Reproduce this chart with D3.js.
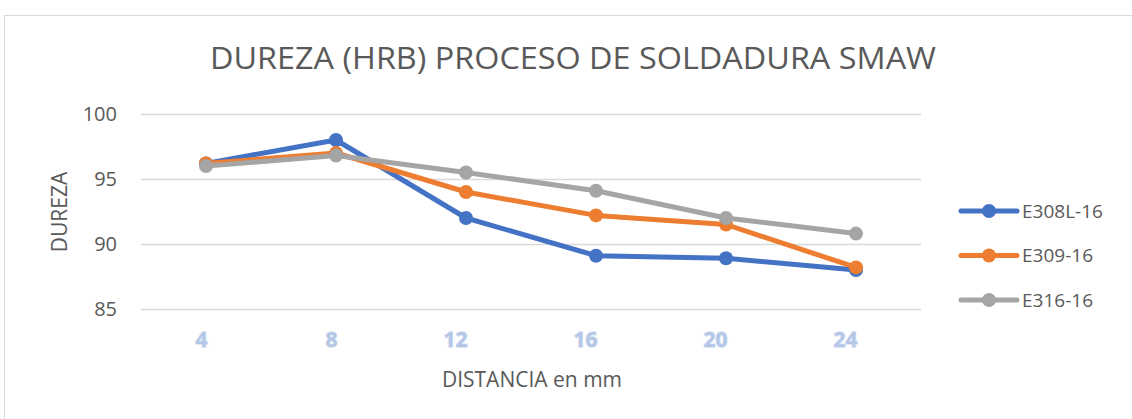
<!DOCTYPE html>
<html>
<head>
<meta charset="utf-8">
<script src="https://cdn.jsdelivr.net/npm/d3@7"></script>
<style>
  body { margin: 0; background: #fff; }
  text { font-family: "Open Sans", "Noto Sans", sans-serif; }
</style>
</head>
<body>
<div class="chart"></div>
<script>
// data
var distances = [4, 8, 12, 16, 20, 24];
var yTicks = [85, 90, 95, 100];
var seriesNames = ['E308L-16', 'E309-16', 'E316-16'];
var e308 = [96.2, 98.0, 92.0, 89.1, 88.9, 88.0];
var e309 = [96.2, 97.0, 94.0, 92.2, 91.5, 88.2];
var e316 = [96.0, 96.8, 95.5, 94.1, 92.0, 90.8];
var colors = ['#4472c4', '#ed7d31', '#a5a5a5'];

var series = [e308, e309, e316].map((vals, i) => ({
  name: seriesNames[i],
  color: colors[i],
  values: vals.map((v, j) => ({ x: distances[j], y: v }))
}));

var W = 1132, H = 419;
var margin = { top: 114, right: 211, bottom: 110, left: 141 };
var width = W - margin.left - margin.right;

var svg = d3.select('.chart')
  .append('svg')
    .attr('width', W)
    .attr('height', H);

// chart frame
svg.append('rect')
  .attr('x', 4.5).attr('y', 15.5)
  .attr('width', W).attr('height', H)
  .style('fill', 'none')
  .style('stroke', '#d9d9d9');

svg.append('text')
  .attr('x', 210).attr('y', 69)
  .attr('textLength', 726)
  .attr('lengthAdjust', 'spacingAndGlyphs')
  .style('font-size', '31.5px')
  .style('fill', '#595959')
  .text('DUREZA (HRB) PROCESO DE SOLDADURA SMAW');

var g = svg.append('g')
  .attr('transform', 'translate(' + margin.left + ',' + margin.top + ')');

var xScale = d3.scalePoint()
  .domain(distances)
  .range([0, width])
  .padding(0.5);

var yScale = d3.scaleLinear()
  .domain([85, 100])
  .range([195, 0]);

// gridlines
g.append('g')
  .call(d3.axisLeft(yScale).tickValues(yTicks).tickSize(-width).tickFormat(''))
  .call(a => a.select('.domain').remove())
  .call(a => a.selectAll('line').style('stroke', '#d9d9d9').style('stroke-width', 1.3));

// y tick labels
g.append('g')
  .call(d3.axisLeft(yScale).tickValues(yTicks).tickSize(0).tickPadding(24))
  .call(a => a.select('.domain').remove())
  .call(a => a.selectAll('text')
    .style('font-size', '20px')
    .style('fill', '#595959')
    .style('font-family', '"Open Sans", sans-serif'));

// x tick labels (right edge sits on the category point, as in the reference)
g.append('g')
  .attr('transform', 'translate(0,' + (yScale(85) + 38) + ')')
  .call(d3.axisBottom(xScale).tickSize(0).tickPadding(0))
  .call(a => a.select('.domain').remove())
  .call(a => a.selectAll('text')
    .attr('text-anchor', 'end')
    .attr('dy', 0)
    .attr('dx', 1)
    .style('font-size', '21px')
    .style('font-weight', 'bold')
    .style('fill', '#b4c7e7')
    .style('stroke', '#dae3f3')
    .style('stroke-width', 1.5)
    .style('paint-order', 'stroke')
    .style('font-family', '"Open Sans", sans-serif'));

svg.append('text')
  .attr('x', 532).attr('y', 387)
  .attr('text-anchor', 'middle')
  .style('font-size', '21px')
  .style('fill', '#595959')
  .text('DISTANCIA en mm');

svg.append('text')
  .attr('transform', 'translate(67,212) rotate(-90)')
  .attr('text-anchor', 'middle')
  .style('font-size', '21px')
  .style('fill', '#595959')
  .text('DUREZA');

var line = d3.line()
  .x(d => xScale(d.x))
  .y(d => yScale(d.y));

series.forEach(s => {
  g.append('path')
    .attr('d', line(s.values))
    .style('fill', 'none')
    .style('stroke', s.color)
    .style('stroke-width', 5)
    .style('stroke-linejoin', 'round');
  g.selectAll(null)
    .data(s.values)
    .enter()
    .append('circle')
    .attr('cx', d => xScale(d.x))
    .attr('cy', d => yScale(d.y))
    .attr('r', 7)
    .style('fill', s.color);
});

// legend
var legend = svg.append('g')
  .attr('transform', 'translate(961,211)');

var rows = legend.selectAll('g')
  .data(series)
  .enter()
  .append('g')
  .attr('transform', (d, i) => 'translate(0,' + i * 44.5 + ')');

rows.append('line')
  .attr('x1', 0).attr('x2', 56)
  .style('stroke', d => d.color)
  .style('stroke-width', 5)
  .style('stroke-linecap', 'round');

rows.append('circle')
  .attr('cx', 28)
  .attr('r', 7)
  .style('fill', d => d.color);

rows.append('text')
  .attr('x', 61)
  .attr('dy', '0.35em')
  .style('font-size', '19px')
  .style('fill', '#595959')
  .text(d => d.name);
</script>
</body>
</html>
